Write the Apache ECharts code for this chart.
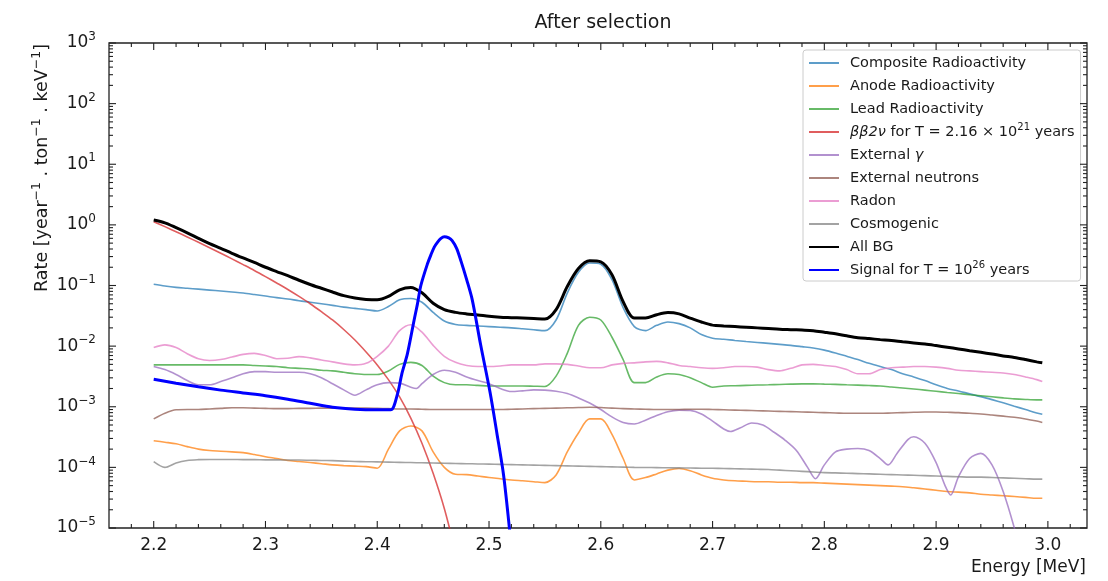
<!DOCTYPE html>
<html>
<head>
<meta charset="utf-8">
<script src="https://cdn.jsdelivr.net/npm/echarts@6/dist/echarts.min.js"></script>
<style>
  html, body { margin: 0; padding: 0; background: #fff; }
  #chart { width: 1108px; height: 581px; }
</style>
</head>
<body>
<div id="chart"></div>
<script>
// Energy grid (MeV) shared by most background components
const energy = [
  2.20, 2.21, 2.22, 2.23, 2.24, 2.25, 2.26, 2.27, 2.28, 2.29,
  2.30, 2.31, 2.32, 2.33, 2.34, 2.35, 2.36, 2.37, 2.38, 2.39,
  2.40, 2.41, 2.42, 2.43, 2.44, 2.45, 2.46, 2.47, 2.48, 2.49,
  2.50, 2.51, 2.52, 2.53, 2.54, 2.55, 2.56, 2.57, 2.58, 2.59,
  2.60, 2.61, 2.62, 2.63, 2.64, 2.65, 2.66, 2.67, 2.68, 2.69,
  2.70, 2.71, 2.72, 2.73, 2.74, 2.75, 2.76, 2.77, 2.78, 2.79,
  2.80, 2.81, 2.82, 2.83, 2.84, 2.85, 2.86, 2.87, 2.88, 2.89,
  2.90, 2.91, 2.92, 2.93, 2.94, 2.95, 2.96, 2.97, 2.98, 2.99,
  2.995
];

// Rates in year^-1 ton^-1 keV^-1
const compositeRadioactivity = [
  0.105, 0.098, 0.093, 0.090, 0.087, 0.084, 0.081, 0.078, 0.075, 0.071,
  0.067, 0.063, 0.060, 0.056, 0.053, 0.050, 0.047, 0.044, 0.042, 0.040,
  0.038, 0.045, 0.058, 0.061, 0.053, 0.036, 0.026, 0.0228, 0.022, 0.0215,
  0.021, 0.0205, 0.020, 0.0193, 0.0186, 0.018, 0.027, 0.075, 0.165, 0.235,
  0.225, 0.125, 0.043, 0.021, 0.018, 0.022, 0.025, 0.0235, 0.020, 0.0155,
  0.0135, 0.013, 0.0124, 0.0119, 0.0115, 0.0111, 0.0107, 0.0103, 0.0098, 0.0093,
  0.0086, 0.0077, 0.0068, 0.0060, 0.0052, 0.0046, 0.0041, 0.0035, 0.0031, 0.0027,
  0.0023, 0.0020, 0.00182, 0.00163, 0.00147, 0.00131, 0.00116, 0.00102, 0.0009, 0.00079,
  0.00075
];

const anodeRadioactivity = [
  0.000275, 0.00026, 0.000245, 0.00022, 0.0002, 0.00019, 0.000185, 0.00018, 0.000175, 0.000163,
  0.00015, 0.00014, 0.00013, 0.000125, 0.00012, 0.000115, 0.00011, 0.000107, 0.000105, 0.000103,
  0.000097, 0.0002, 0.0004, 0.00048, 0.0004, 0.00018, 0.0001, 0.000077, 0.000076, 0.000072,
  0.000068, 0.000065, 0.000062, 0.00006, 0.000058, 0.000056, 0.000075, 0.00018, 0.00037, 0.00063,
  0.00063, 0.00035, 0.00014, 0.000062, 0.000068, 0.000078, 0.00009, 0.000096, 0.000088, 0.000075,
  0.000066, 0.000062, 0.00006, 0.000059, 0.000058, 0.000058, 0.000057, 0.000057, 0.000056, 0.000056,
  0.000055, 0.000054, 0.000053, 0.000052, 0.000051, 0.00005, 0.000049, 0.000048, 0.000046, 0.000044,
  0.000042, 0.00004, 0.000039, 0.000038, 0.000036, 0.000035, 0.000034, 0.000033, 0.000032, 0.000031,
  0.000031
];

const leadRadioactivity = [
  0.0049, 0.0049, 0.0049, 0.0049, 0.0049, 0.0049, 0.0049, 0.0049, 0.0049, 0.0048,
  0.0047, 0.0046, 0.0044, 0.0043, 0.0042, 0.0040, 0.0039, 0.0037, 0.0035, 0.0034,
  0.0034, 0.0039, 0.0050, 0.0054, 0.0048, 0.0032, 0.0025, 0.0023, 0.0023, 0.00225,
  0.0022, 0.0022, 0.0022, 0.0022, 0.00218, 0.00216, 0.0032, 0.0076, 0.022, 0.030,
  0.027, 0.014, 0.006, 0.0025, 0.0025, 0.0031, 0.0035, 0.0034, 0.0030, 0.0025,
  0.0021, 0.0022, 0.00222, 0.00225, 0.00228, 0.0023, 0.00233, 0.00236, 0.00238, 0.00238,
  0.00236, 0.00234, 0.0023, 0.00227, 0.00224, 0.0022, 0.00212, 0.00204, 0.00196, 0.00188,
  0.0018, 0.00172, 0.00165, 0.00158, 0.00152, 0.00146, 0.0014, 0.00135, 0.00132, 0.0013,
  0.0013
];

const bb2vEnergy = [
  2.20, 2.21, 2.22, 2.23, 2.24, 2.25, 2.26, 2.27, 2.28, 2.29,
  2.30, 2.31, 2.32, 2.33, 2.34, 2.35, 2.36, 2.37, 2.38, 2.39,
  2.40, 2.41, 2.42, 2.43, 2.44, 2.45, 2.46, 2.47
];
const bb2v = [
  1.13, 0.935, 0.771, 0.632, 0.516, 0.42, 0.34, 0.275, 0.221, 0.177,
  0.14, 0.11, 0.086, 0.066, 0.05, 0.037, 0.027, 0.0188, 0.0126, 0.008,
  0.0049, 0.0028, 0.00145, 0.00065, 0.00025, 0.00008, 0.000021, 0.000004
];

const gammaEnergy = [
  2.20, 2.21, 2.22, 2.23, 2.24, 2.25, 2.26, 2.27, 2.28, 2.29,
  2.30, 2.31, 2.32, 2.33, 2.34, 2.35, 2.36, 2.37, 2.38, 2.39,
  2.40, 2.41, 2.42, 2.43, 2.435, 2.44, 2.45, 2.46, 2.47, 2.48,
  2.49, 2.50, 2.51, 2.52, 2.53, 2.54, 2.55, 2.56, 2.57, 2.58,
  2.59, 2.60, 2.61, 2.62, 2.63, 2.64, 2.65, 2.66, 2.67, 2.68,
  2.69, 2.70, 2.71, 2.716, 2.725, 2.735, 2.745, 2.755, 2.765, 2.775,
  2.785, 2.792, 2.80, 2.81, 2.82, 2.83, 2.84, 2.85, 2.857, 2.865,
  2.875, 2.88, 2.89, 2.90, 2.908, 2.913, 2.92, 2.93, 2.94, 2.95,
  2.96, 2.97, 2.98, 2.99
];
const externalGamma = [
  0.0046, 0.0041, 0.0034, 0.0027, 0.0023, 0.0023, 0.0026, 0.0030, 0.0035, 0.0038,
  0.0038, 0.0037, 0.0037, 0.0037, 0.0035, 0.0030, 0.0024, 0.0019, 0.00155, 0.0019,
  0.0023, 0.0025, 0.00245, 0.0021, 0.0020, 0.0024, 0.0034, 0.0040, 0.0037, 0.0031,
  0.0027, 0.0024, 0.0020, 0.00178, 0.00183, 0.0019, 0.00188, 0.0018, 0.00165, 0.0014,
  0.00115, 0.0009, 0.00068, 0.00055, 0.00052, 0.0006, 0.00072, 0.00083, 0.00088, 0.00087,
  0.00076, 0.00058, 0.00043, 0.00039, 0.00045, 0.00054, 0.0005, 0.00038, 0.00028, 0.00019,
  0.0001, 0.000065, 0.00011, 0.00018, 0.0002, 0.000205, 0.00019, 0.00014, 0.00011, 0.00017,
  0.00029, 0.00032, 0.00025, 0.00012, 0.00005, 0.000035, 0.00007, 0.00014, 0.00017, 0.00011,
  0.00004, 0.00001, 0.000002, 0.0000004
];

const externalNeutrons = [
  0.00063, 0.00078, 0.00089, 0.0009, 0.0009, 0.00092, 0.00094, 0.00096, 0.00096, 0.00095,
  0.00094, 0.00093, 0.00093, 0.00094, 0.00094, 0.00095, 0.00095, 0.00095, 0.00095, 0.00095,
  0.00094, 0.00093, 0.00092, 0.00092, 0.00091, 0.0009, 0.0009, 0.0009, 0.0009, 0.0009,
  0.0009, 0.0009, 0.00091, 0.00092, 0.00093, 0.00094, 0.00095, 0.00096, 0.00097, 0.00098,
  0.00097, 0.00095, 0.00093, 0.00092, 0.00091, 0.0009, 0.0009, 0.0009, 0.00091, 0.00091,
  0.0009, 0.00089, 0.00088, 0.00087, 0.00086, 0.00085, 0.00084, 0.00083, 0.00082, 0.00081,
  0.0008, 0.00079, 0.00078, 0.00078, 0.00078, 0.00078, 0.00079, 0.0008, 0.00081, 0.00082,
  0.00082, 0.00081, 0.0008, 0.00078, 0.00076, 0.00073, 0.0007, 0.00067, 0.00063, 0.00058,
  0.00055
];

const radon = [
  0.0095, 0.0105, 0.0095, 0.0075, 0.0062, 0.0058, 0.0060, 0.0066, 0.0073, 0.0076,
  0.0070, 0.0062, 0.0063, 0.0067, 0.0064, 0.0059, 0.0055, 0.0051, 0.0049, 0.0052,
  0.0068, 0.0100, 0.018, 0.0225, 0.017, 0.0103, 0.0068, 0.0054, 0.0048, 0.0046,
  0.0046, 0.0047, 0.0049, 0.0049, 0.0049, 0.0051, 0.0051, 0.0050, 0.0047, 0.0044,
  0.0044, 0.0049, 0.0052, 0.0053, 0.0055, 0.0056, 0.0053, 0.0048, 0.0046, 0.0044,
  0.0043, 0.0044, 0.0046, 0.0046, 0.0045, 0.0041, 0.0039, 0.0043, 0.0049, 0.0050,
  0.0048, 0.0046, 0.0041, 0.0035, 0.0035, 0.0041, 0.0044, 0.0045, 0.0046, 0.0046,
  0.0045, 0.0043, 0.0040, 0.0039, 0.0038, 0.0037, 0.0036, 0.0034, 0.0031, 0.0028,
  0.0026
];

const cosmogenic = [
  0.000124, 0.0001, 0.000118, 0.00013, 0.000134, 0.000135, 0.000135, 0.000135, 0.000134, 0.000134,
  0.000133, 0.000133, 0.000132, 0.000132, 0.000131, 0.00013, 0.000129, 0.000127, 0.000125, 0.000124,
  0.000123, 0.000122, 0.000121, 0.00012, 0.000119, 0.000118, 0.000117, 0.000116, 0.000115, 0.000114,
  0.000113, 0.000112, 0.000111, 0.00011, 0.000109, 0.000108, 0.000107, 0.000106, 0.000105, 0.000104,
  0.000103, 0.000102, 0.000101, 0.0001, 0.0000995, 0.000099, 0.0000985, 0.000098, 0.0000975, 0.000097,
  0.0000965, 0.000096, 0.000095, 0.000094, 0.000093, 0.000092, 0.00009, 0.000088, 0.000086, 0.000084,
  0.000082, 0.000081, 0.00008, 0.000079, 0.000078, 0.000077, 0.000076, 0.000075, 0.000074, 0.000073,
  0.000072, 0.000071, 0.00007, 0.000069, 0.000069, 0.000068, 0.000067, 0.000066, 0.000065, 0.000064,
  0.000064
];

const allBackground = [
  1.2, 1.08, 0.9, 0.74, 0.6, 0.49, 0.41, 0.34, 0.285, 0.24,
  0.2, 0.17, 0.145, 0.122, 0.104, 0.09, 0.078, 0.068, 0.062, 0.059,
  0.058, 0.066, 0.085, 0.093, 0.076, 0.051, 0.04, 0.036, 0.034, 0.0327,
  0.031, 0.030, 0.0295, 0.029, 0.0285, 0.028, 0.040, 0.096, 0.19, 0.255,
  0.245, 0.15, 0.054, 0.029, 0.029, 0.033, 0.0357, 0.034, 0.029, 0.025,
  0.0222, 0.0215, 0.021, 0.0205, 0.020, 0.0195, 0.019, 0.0187, 0.0184, 0.018,
  0.017, 0.016, 0.0148, 0.0138, 0.0133, 0.0128, 0.0124, 0.0118, 0.0113, 0.0108,
  0.0102, 0.0096, 0.009, 0.0084, 0.0079, 0.0074, 0.0069, 0.0065, 0.006, 0.0055,
  0.0053
];

const signalEnergy = [
  2.20, 2.22, 2.24, 2.26, 2.28, 2.30, 2.32, 2.34, 2.36, 2.38,
  2.40, 2.412, 2.418, 2.422, 2.427, 2.433, 2.436, 2.439, 2.445, 2.448,
  2.451, 2.454, 2.457, 2.460, 2.464, 2.467, 2.471, 2.475, 2.480, 2.485,
  2.4925, 2.501, 2.507, 2.513, 2.518, 2.522
];
const signal = [
  0.00284, 0.00245, 0.00213, 0.00188, 0.00169, 0.00152, 0.00133, 0.00114, 0.00098, 0.00091,
  0.00089, 0.00089, 0.0016, 0.0035, 0.0075, 0.027, 0.05, 0.10, 0.23, 0.32,
  0.43, 0.52, 0.6, 0.64, 0.61, 0.55, 0.41, 0.25, 0.125, 0.058,
  0.0105, 0.0017, 0.00037, 0.000075, 0.000011, 0.000002
];

// Axis ticks
const xTickLabels = [2.2, 2.3, 2.4, 2.5, 2.6, 2.7, 2.8, 2.9, 3.0];
const yTickExponents = [-5, -4, -3, -2, -1, 0, 1, 2, 3];

const FONT = 'DejaVu Sans';
const INK = '#1a1a1a';

const pairs = (xs, ys) => ys.map((y, i) => [xs[i], y]);

function lineSeries(name, xs, ys, color, width, opacity) {
  return {
    name,
    type: 'line',
    data: pairs(xs, ys),
    showSymbol: false,
    symbol: 'none',
    smooth: 0.3,
    clip: true,
    lineStyle: { color, width, opacity },
    itemStyle: { color },
    emphasis: { disabled: true },
    animation: false
  };
}

const N_BB = 'ββ2ν for T = 2.16 × 10^21 years';
const N_GAMMA = 'External γ';
const N_SIG = 'Signal for T = 10^26 years';

const legendText = {
  [N_BB]: '{i|ββ2ν} for T = 2.16 × 10{s|21} years',
  [N_GAMMA]: 'External {i|γ}',
  [N_SIG]: 'Signal for T = 10{s|26} years'
};

const series = [
  lineSeries('Composite Radioactivity', energy, compositeRadioactivity, '#1f77b4', 1.6, 0.72),
  lineSeries('Anode Radioactivity', energy, anodeRadioactivity, '#ff7f0e', 1.6, 0.75),
  lineSeries('Lead Radioactivity', energy, leadRadioactivity, '#2ca02c', 1.6, 0.72),
  lineSeries(N_BB, bb2vEnergy, bb2v, '#d62728', 1.6, 0.75),
  lineSeries(N_GAMMA, gammaEnergy, externalGamma, '#9467bd', 1.6, 0.72),
  lineSeries('External neutrons', energy, externalNeutrons, '#8c564b', 1.6, 0.72),
  lineSeries('Radon', energy, radon, '#e377c2', 1.6, 0.72),
  lineSeries('Cosmogenic', energy, cosmogenic, '#7f7f7f', 1.6, 0.72),
  lineSeries('All BG', energy, allBackground, '#000000', 3, 1),
  lineSeries(N_SIG, signalEnergy, signal, '#0000ff', 3, 1)
];

// Inward tick marks on all four sides of the plot frame
const xMinorTicks = [];
for (let k = 109; k <= 151; k++) { if (k % 5 !== 0) xMinorTicks.push(k / 50); }
const yMinorTicks = [];
yTickExponents.slice(0, -1).forEach(e => { for (let m = 2; m <= 9; m++) yMinorTicks.push(m * Math.pow(10, e)); });
const tickMarks = [
  ...xTickLabels.map(v => [0, v]),
  ...xMinorTicks.map(v => [1, v]),
  ...yTickExponents.map(e => [2, Math.pow(10, e)]),
  ...yMinorTicks.map(v => [3, v])
];

series.push({
  type: 'custom',
  coordinateSystem: 'cartesian2d',
  data: tickMarks,
  silent: true,
  animation: false,
  z: 5,
  renderItem(params, api) {
    const kind = api.value(0);
    const v = api.value(1);
    const cs = params.coordSys;
    const len = (kind === 0 || kind === 2) ? 7 : 4;
    const style = { stroke: '#222', lineWidth: 1.1 };
    if (kind < 2) {
      const x = api.coord([v, 1])[0];
      const b = cs.y + cs.height;
      return { type: 'group', children: [
        { type: 'line', shape: { x1: x, y1: b, x2: x, y2: b - len }, style },
        { type: 'line', shape: { x1: x, y1: cs.y, x2: x, y2: cs.y + len }, style }
      ] };
    }
    const y = api.coord([2.5, v])[1];
    const r = cs.x + cs.width;
    return { type: 'group', children: [
      { type: 'line', shape: { x1: cs.x, y1: y, x2: cs.x + len, y2: y }, style },
      { type: 'line', shape: { x1: r, y1: y, x2: r - len, y2: y }, style }
    ] };
  }
});

const chart = echarts.init(document.getElementById('chart'), null, { renderer: 'canvas' });

chart.setOption({
  animation: false,
  backgroundColor: '#ffffff',
  textStyle: { fontFamily: FONT, color: INK },
  title: {
    text: 'After selection',
    left: 598,
    top: 9,
    textAlign: 'center',
    textStyle: { fontFamily: FONT, fontSize: 19, fontWeight: 'normal', color: INK }
  },
  grid: {
    left: 109, right: 21, top: 43, bottom: 53,
    show: true, borderColor: '#222', borderWidth: 1.3, backgroundColor: 'transparent'
  },
  xAxis: {
    type: 'value',
    min: 2.16,
    max: 3.035,
    interval: 0.02,
    axisLine: { show: false },
    axisTick: { show: false },
    splitLine: { show: false },
    axisLabel: {
      margin: 9,
      fontFamily: FONT,
      fontSize: 17,
      color: INK,
      formatter: v => {
        const hit = xTickLabels.find(t => Math.abs(t - v) < 1e-6);
        return hit === undefined ? '' : hit.toFixed(1);
      }
    }
  },
  yAxis: {
    type: 'log',
    logBase: 10,
    min: 1e-5,
    max: 1e3,
    splitNumber: 8,
    axisLine: { show: false },
    axisTick: { show: false },
    splitLine: { show: false },
    axisLabel: {
      margin: 13,
      fontFamily: FONT,
      color: INK,
      formatter: v => {
        const e = Math.round(Math.log10(v));
        return '{b|10}{s|' + (e < 0 ? '−' + (-e) : String(e)) + '}';
      },
      rich: {
        b: { fontFamily: FONT, fontSize: 17, color: INK, lineHeight: 24 },
        s: { fontFamily: FONT, fontSize: 12, color: INK, verticalAlign: 'top' }
      }
    }
  },
  legend: {
    orient: 'vertical',
    left: 803,
    top: 50,
    padding: [3, 6, 1, 5],
    itemWidth: 30,
    itemHeight: 14,
    itemGap: 3,
    backgroundColor: 'rgba(255,255,255,0.85)',
    borderColor: '#cccccc',
    borderWidth: 1,
    borderRadius: 3,
    selectedMode: false,
    // line-only swatches: the point marker is made invisible
    itemStyle: { color: 'transparent', borderColor: 'transparent', borderWidth: 0 },
    data: series.filter(s => s.type === 'line').map(s => s.name),
    formatter: name => legendText[name] || name,
    textStyle: {
      fontFamily: FONT,
      fontSize: 14.5,
      color: INK,
      lineHeight: 20,
      padding: [0, 0, 0, 6],
      rich: {
        i: { fontFamily: FONT, fontSize: 14.5, fontStyle: 'italic', color: INK, lineHeight: 20 },
        s: { fontFamily: FONT, fontSize: 10, color: INK, verticalAlign: 'top' }
      }
    }
  },
  graphic: [
    {
      type: 'text',
      x: 42,
      y: 168,
      rotation: Math.PI / 2,
      silent: true,
      style: {
        text: 'Rate [year{s|−1} . ton{s|−1} . keV{s|−1}]',
        fontFamily: FONT,
        fontSize: 17.5,
        lineHeight: 24,
        fill: INK,
        align: 'center',
        verticalAlign: 'middle',
        textAlign: 'center',
        textVerticalAlign: 'middle',
        rich: {
          s: { fontFamily: FONT, fontSize: 12.5, fill: INK, verticalAlign: 'top' }
        }
      }
    },
    {
      type: 'text',
      x: 1086,
      y: 568,
      silent: true,
      style: {
        text: 'Energy [MeV]',
        fontFamily: FONT,
        fontSize: 17,
        fill: INK,
        align: 'right',
        verticalAlign: 'middle',
        textAlign: 'right',
        textVerticalAlign: 'middle'
      }
    }
  ],
  series
});
</script>
</body>
</html>
